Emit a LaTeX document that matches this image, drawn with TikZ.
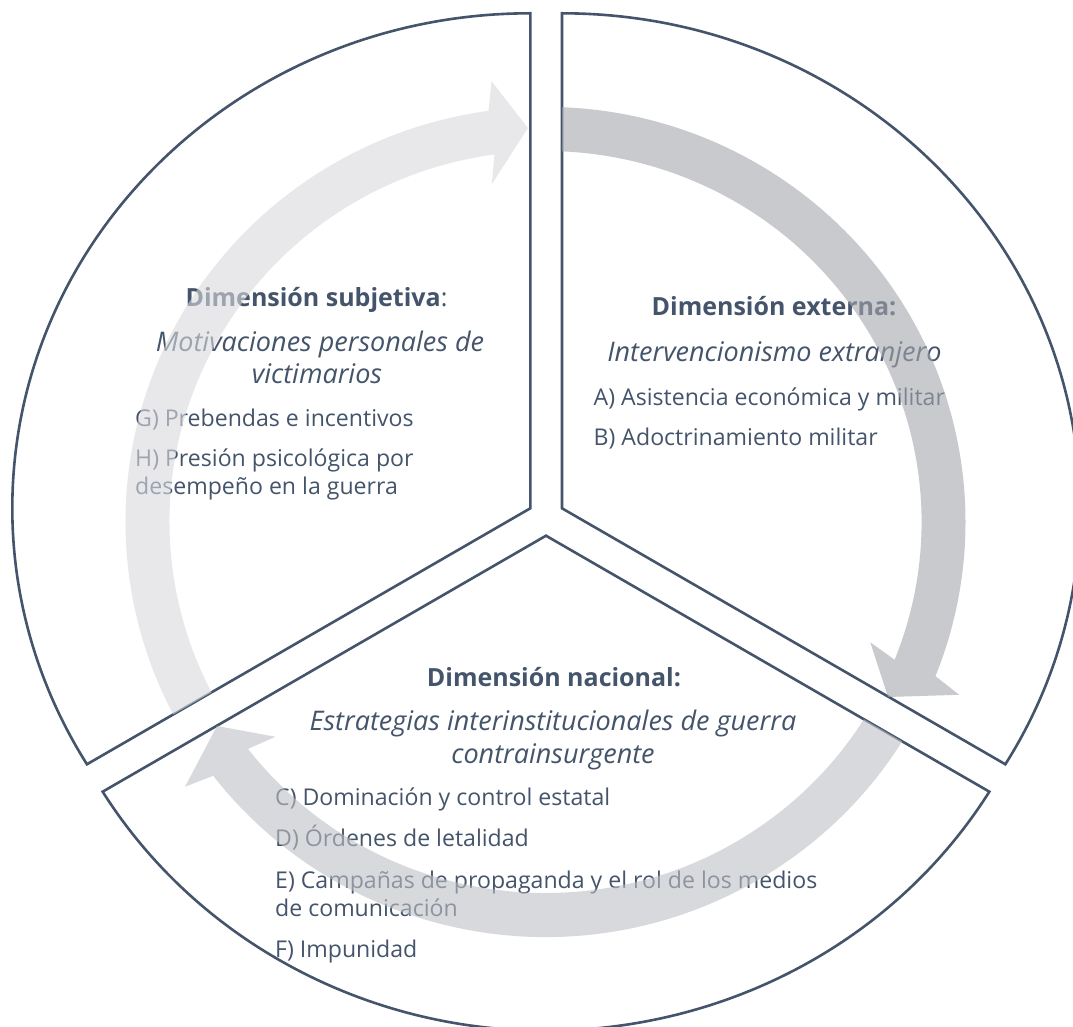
\documentclass[tikz,border=0pt]{standalone}
\usepackage{fontspec}
\setmainfont{Open Sans}
\definecolor{txt}{HTML}{44546A}
\definecolor{ringdark}{RGB}{165,167,173}
\definecolor{ringmid}{RGB}{190,192,197}
\definecolor{ringlight}{RGB}{217,218,222}
\begin{document}
\begin{tikzpicture}[x=1pt,y=-1pt,
  sector/.style={fill=white, draw=txt, line width=2.6pt},
  ttl/.style={inner sep=0pt, anchor=base, text=txt, font=\fontsize{25}{30}\selectfont\bfseries},
  sub/.style={inner sep=0pt, anchor=base, text=txt, font=\fontsize{27}{32}\selectfont\itshape},
  item/.style={inner sep=0pt, anchor=base west, text=txt, font=\fontsize{23.1}{28}\selectfont},
  ringarrow/.style={fill opacity=0.6}]
\useasboundingbox (0,0) rectangle (1073,1027);
\clip (0,0) rectangle (1073,1027);

% sectors
\def\leftsector{(530.3,508.3) -- (530.3,13.3) arc[start angle=270, end angle=148.86, x radius=518, y radius=495] -- cycle}
\def\rightsector{(562,508.3) -- (562,13.3) arc[start angle=270, end angle=391.14, x radius=518, y radius=495] -- cycle}
\def\bottomsector{(546,535.7) -- ({546+518*cos(31.14)},{535.7+495*sin(31.14)}) arc[start angle=31.14, end angle=148.86, x radius=518, y radius=495] -- cycle}
\draw[sector] \leftsector;
\draw[sector] \rightsector;
\draw[sector] \bottomsector;

% left sector text
\node[ttl] (t1) at (316.5,306) {Dimensión subjetiva\textmd{:}};
\node[sub] (s1a) at (320,351.7) {Motivaciones personales de};
\node[sub] (s1b) at (317,383.3) {victimarios};
\node[item] (g1) at (135,426.7) {G) Prebendas e incentivos};
\node[item] (h1) at (135,466.7) {H) Presión psicológica por};
\node[item] (h2) at (135,494) {desempeño en la guerra};

% right sector text
\node[ttl] (t2) at (774,315) {Dimensión externa:};
\node[sub] (s2) at (774.5,361.7) {Intervencionismo extranjero};
\node[item] (a2) at (593.5,405) {A) Asistencia económica y militar};
\node[item] (b2) at (593.5,445) {B) Adoctrinamiento militar};

% bottom sector text
\node[ttl] (t3) at (554,686.7) {Dimensión nacional:};
\node[sub] (s3a) at (553,730.7) {Estrategias interinstitucionales de guerra};
\node[sub] (s3b) at (553,763.3) {contrainsurgente};
\node[item] (c3) at (275,805) {C) Dominación y control estatal};
\node[item] (d3) at (275,846) {D) Órdenes de letalidad};
\node[item] (e3) at (275,888.3) {E) Campañas de propaganda y el rol de los medios};
\node[item] (e3b) at (275,916) {de comunicación};
\node[item] (f3) at (275,957.3) {F) Impunidad};

% ring arrows
\coordinate (tipA) at (888,697);
\coordinate (tipB) at (217,726);
\coordinate (tipC) at (528,128);
\begin{scope}
\clip \rightsector;
\fill[ringdark, ringarrow] ({545.5+420*cos(-100)},{522+415*sin(-100)}) arc[start angle=-100, end angle=21.8, x radius=420, y radius=415]
  -- ({545.5+449*cos(22.9)},{522+444*sin(22.9)}) -- (tipA) -- ({545.5+347*cos(20.6)},{522+342*sin(20.6)})
  -- ({545.5+376*cos(21.8)},{522+371*sin(21.8)}) arc[start angle=21.8, end angle=-100, x radius=376, y radius=371] -- cycle;
\end{scope}
\begin{scope}
\clip \bottomsector;
\fill[ringmid, ringarrow] ({545.5+420*cos(15)},{522+415*sin(15)}) arc[start angle=15, end angle=142.3, x radius=420, y radius=415]
  -- ({545.5+449*cos(143.4)},{522+444*sin(143.4)}) -- (tipB) -- ({545.5+347*cos(141.1)},{522+342*sin(141.1)})
  -- ({545.5+376*cos(142.3)},{522+371*sin(142.3)}) arc[start angle=142.3, end angle=15, x radius=376, y radius=371] -- cycle;
\end{scope}
\begin{scope}
\clip \leftsector;
\fill[ringlight, ringarrow] ({545.5+420*cos(130)},{522+415*sin(130)}) arc[start angle=130, end angle=262.2, x radius=420, y radius=415]
  -- ({545.5+449*cos(263.1)},{522+444*sin(263.1)}) -- (tipC) -- ({545.5+347*cos(261.1)},{522+342*sin(261.1)})
  -- ({545.5+376*cos(262.2)},{522+371*sin(262.2)}) arc[start angle=262.2, end angle=130, x radius=376, y radius=371] -- cycle;
\end{scope}
\end{tikzpicture}
\end{document}
